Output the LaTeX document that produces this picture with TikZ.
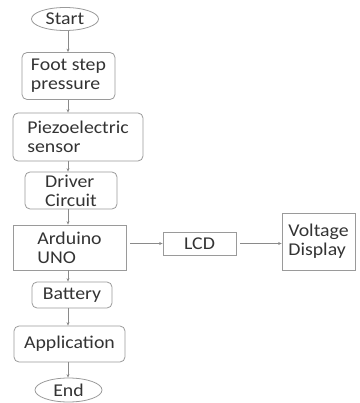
\documentclass[tikz,border=0pt]{standalone}
\usepackage{fontspec}
\setmainfont{Carlito}[FakeStretch=1.1]
\usetikzlibrary{shapes.geometric,arrows.meta}
\definecolor{inkgray}{HTML}{333333}
\definecolor{edgegray}{HTML}{9A9A9A}
\definecolor{flowgray}{HTML}{8A8A8A}
\begin{document}
\begin{tikzpicture}[x=1pt, y=-1pt,
        every node/.style={font=\fontsize{18}{19}\selectfont, text=inkgray, align=left, inner sep=0pt},
        terminal/.style={ellipse, draw=edgegray, line width=0.8pt, minimum width=67pt, minimum height=23pt},
        softbox/.style={rectangle, rounded corners=5pt, draw=edgegray, line width=0.8pt},
        hardbox/.style={rectangle, draw=edgegray, line width=0.8pt},
        flow/.style={-{Stealth[length=3.5pt,width=3pt]}, flowgray, line width=0.6pt}]
        % Page frame
        \useasboundingbox (0,0) rectangle (359,403);
        \coordinate (spine) at (68,0);
        
        % Main column
        \node[terminal] (start) at (65,19) {Start};
        \node[softbox, minimum width=93pt, minimum height=47pt] (foot) at (68.5,76) {Foot step\\pressure};
        \node[softbox, minimum width=130pt, minimum height=48pt] (piezo) at (78,137) {Piezoelectric\\sensor};
        \node[softbox, minimum width=92pt, minimum height=37pt] (driver) at (71,190.5) {Driver\\Circuit};
        \node[hardbox, minimum width=113pt, minimum height=45pt] (arduino) at (69.5,247.5) {Arduino\\UNO};
        \node[softbox, minimum width=80pt, minimum height=26pt] (battery) at (72,295) {Battery};
        \node[softbox, minimum width=111pt, minimum height=36pt] (appl) at (69.5,344) {Application};
        \node[terminal, minimum height=24pt] (end) at (68.5,390) {End};
        
        % Display branch
        \node[hardbox, minimum width=73pt, minimum height=23pt] (lcd) at (199.5,243.5) {LCD};
        \node[hardbox, minimum width=73pt, minimum height=57pt] (volt) at (318.5,241.5) {Voltage\\Display};
        
        % Connectors down the column
        \foreach \a/\b in {start/foot, foot/piezo, piezo/driver, driver/arduino, arduino/battery, battery/appl, appl/end}
            \draw[flow] (\a.south -| spine) -- (\b.north -| spine);
        
        % Connectors to the right
        \draw[flow] (arduino.east |- lcd) ++(4,0) coordinate (ardout) -- (lcd.west);
        \draw[flow] (lcd.east) ++(4,0) coordinate (lcdout) -- (volt.west |- lcd);
        
    \end{tikzpicture}
\end{document}
